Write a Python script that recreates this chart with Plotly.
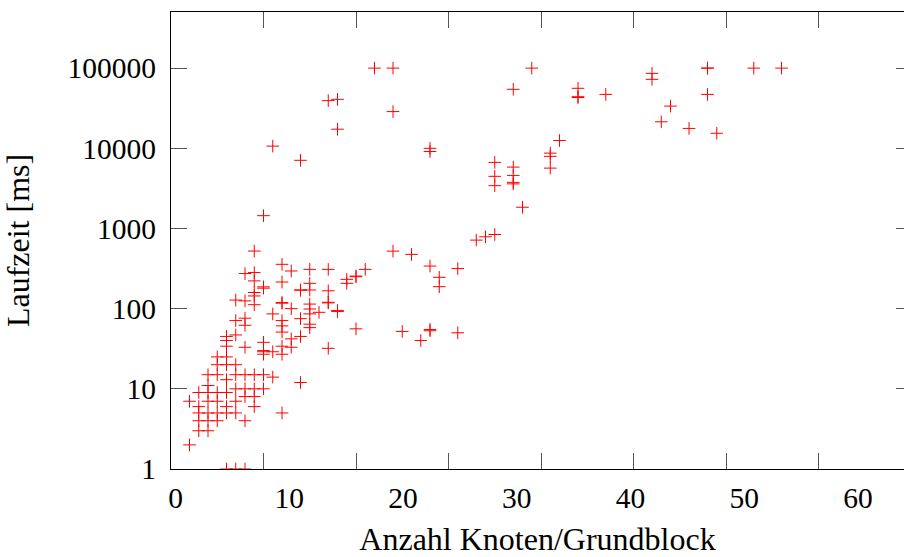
import plotly.graph_objects as go

# Anzahl Knoten/Grundblock (x) and Laufzeit in ms (y)
knoten = (
    [2] * 2 + [3] * 5 + [4] * 7 + [5] * 7 + [6] * 10 + [7] * 9 + [8] * 10 + [9] * 10
    + [10] * 9 + [11] * 4 + [12] * 10 + [13] * 4 + [14] * 6 + [15] * 8 + [16] * 1
    + [17] * 6 + [18] * 4 + [19] * 2 + [20] * 3 + [21] * 1 + [22] * 1 + [24] * 3
    + [25] * 1 + [26] * 1 + [27] * 1 + [28] * 5 + [29] * 2 + [31] * 2 + [33] * 1
    + [34] * 1 + [35] * 4 + [37] * 5 + [38] * 1 + [39] * 1 + [41] * 3 + [42] * 1
    + [44] * 3 + [47] * 1 + [52] * 2 + [53] * 1 + [54] * 1 + [56] * 1 + [58] * 3
    + [59] * 1 + [63] * 1 + [66] * 1
)
laufzeit = [
    2, 7,
    9, 6, 5, 4, 3,
    15, 11, 9, 7, 5, 4, 3,
    25, 20, 15, 9, 7, 5, 4,
    45, 40, 34, 25, 20, 13, 9, 6, 5, 1,
    128, 71, 47, 20, 15, 10, 7, 5, 1,
    274, 125, 76, 62, 33, 15, 10, 8, 4, 1,
    523, 282, 222, 159, 144, 112, 15, 10, 8, 6,
    1445, 187, 180, 38, 30, 29, 27, 15, 10,
    10640, 86, 29, 14,
    357, 215, 119, 117, 71, 61, 51, 34, 27, 5,
    295, 100, 42, 33,
    7080, 171, 170, 75, 45, 12,
    309, 207, 171, 114, 99, 86, 64, 58,
    90,
    39300, 309, 167, 120, 118, 32,
    40800, 17300, 95, 92,
    232, 207,
    255, 250, 56,
    309,
    100000,
    100000, 28700, 522,
    52,
    475,
    40,
    10000, 9120, 340, 55, 53,
    246, 188,
    316, 50,
    716,
    787,
    6670, 4470, 3420, 841,
    54400, 5830, 4590, 3760, 3600,
    1840,
    100000,
    8700, 7940, 5660,
    12500,
    56000, 44000, 43000,
    47000,
    86000, 72500,
    21400,
    33600,
    17700,
    100000, 100000, 47000,
    15400,
    100000,
    100000,
]

x_ticks = [10, 20, 30, 40, 50, 60, 70]
x_labels = [0, 10, 20, 30, 40, 50, 60]
y_ticks = [1, 10, 100, 1000, 10000, 100000]

font = "Liberation Serif"

fig = go.Figure()
fig.add_trace(go.Scatter(
    x=knoten, y=laufzeit, mode="markers",
    marker=dict(symbol="cross-thin", size=9, color="red",
                line=dict(color="red", width=1)),
    showlegend=False, hoverinfo="x+y",
))
# empty traces so the helper axes get drawn
fig.add_trace(go.Scatter(
    x=x_labels, y=[None] * len(x_labels), xaxis="x2", mode="markers",
    showlegend=False, hoverinfo="skip",
))
fig.add_trace(go.Scatter(
    x=[None] * len(y_ticks), y=y_ticks, yaxis="y2", mode="markers",
    showlegend=False, hoverinfo="skip",
))

fig.update_layout(
    width=904, height=557, autosize=False,
    margin=dict(l=171, r=0, t=12, b=86),
    paper_bgcolor="white", plot_bgcolor="white",
    font=dict(family=font, size=29.5, color="black"),
    xaxis=dict(
        range=[0, 79.24], tickvals=x_ticks, showticklabels=False,
        ticks="inside", ticklen=16, tickcolor="#555", tickwidth=1,
        showline=True, linecolor="black", linewidth=1.3, mirror="ticks",
        showgrid=False, zeroline=False,
        title=dict(text="Anzahl Knoten/Grundblock", font=dict(size=32), standoff=66),
    ),
    # labels of the x axis sit on their own scale, as in the original
    xaxis2=dict(
        overlaying="x", side="bottom", anchor="y",
        range=[-0.4, 64.05], tickvals=x_labels,
        ticks="", showline=False, showgrid=False, zeroline=False,
        ticklabelstandoff=8,
    ),
    yaxis=dict(
        type="log", range=[0, 5.7], tickvals=y_ticks,
        ticktext=[str(v) for v in y_ticks],
        ticks="inside", ticklen=16, tickcolor="#555", tickwidth=1,
        showline=True, linecolor="black", linewidth=1.3, mirror=False,
        showgrid=False, zeroline=False, ticklabelstandoff=8,
        title=dict(text="Laufzeit [ms]", font=dict(size=32), standoff=35),
    ),
    # right frame edge lies just outside the picture, only tick stubs show
    yaxis2=dict(
        type="log", range=[0, 5.7], tickvals=y_ticks, showticklabels=False,
        overlaying="y", side="right", anchor="x",
        ticks="inside", ticklen=8.5, tickcolor="#555", tickwidth=1,
        showline=False, showgrid=False, zeroline=False,
    ),
)

# drop the default body margin so the 904x557 figure fills the window
fig.write_html("out.html", config={"displayModeBar": False},
               post_script="document.body.style.margin = '0';")
